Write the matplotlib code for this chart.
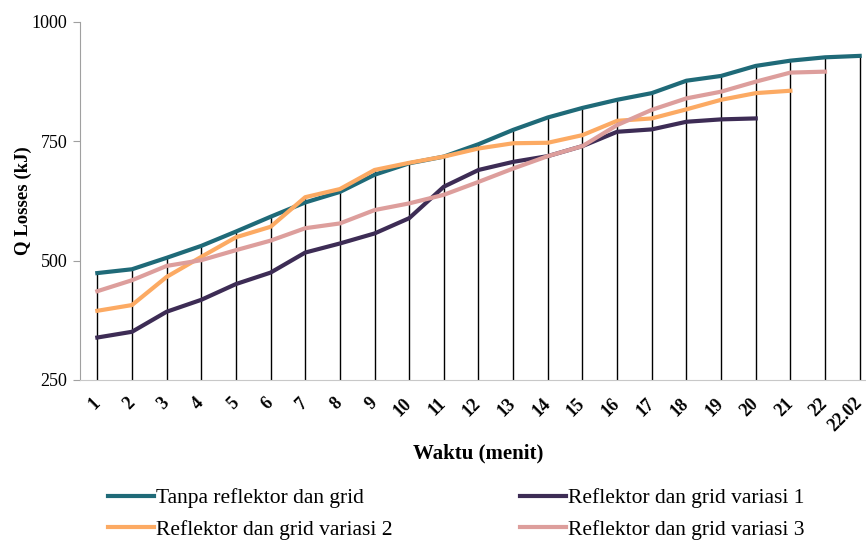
import matplotlib.pyplot as plt
import numpy as np

plt.rcParams['font.family'] = ['Liberation Serif', 'DejaVu Serif']

# waktu (menit) on the category axis
waktu = ['1', '2', '3', '4', '5', '6', '7', '8', '9', '10', '11', '12',
         '13', '14', '15', '16', '17', '18', '19', '20', '21', '22', '22.02']

# Q losses (kJ)
tanpa = [474, 482, 506, 531, 561, 592, 622, 644, 680, 704, 718, 744,
         774, 800, 820, 837, 851, 877, 887, 908, 919, 926, 929]
variasi_1 = [339, 351, 393, 418, 451, 475, 517, 536, 557, 589, 655, 690,
             707, 719, 740, 770, 775, 791, 796, 798]
variasi_2 = [395, 407, 466, 508, 549, 571, 633, 650, 690, 705, 718, 735,
             746, 747, 763, 793, 798, 817, 837, 851, 856]
variasi_3 = [436, 459, 489, 501, 522, 542, 568, 578, 606, 620, 638, 665,
             693, 719, 740, 784, 816, 840, 854, 875, 894, 896]

fig = plt.figure(figsize=(8.66, 5.41), dpi=100)
ax = fig.add_axes([80 / 866, 1 - 380 / 541, 797 / 866, 358 / 541])

x = np.arange(len(waktu))

# drop lines from the highest point in each category
series = [tanpa, variasi_1, variasi_2, variasi_3]
tops = []
for i in x:
    tops.append(max(s[i] for s in series if i < len(s)))
ax.vlines(x, 250, tops, color='black', lw=1, zorder=1)

ax.plot(x, tanpa, color='#1f6a78', lw=3, label='Tanpa reflektor dan grid', zorder=3)
ax.plot(x[:len(variasi_1)], variasi_1, color='#3d2c55', lw=3,
        label='Reflektor dan grid variasi 1', zorder=3)
ax.plot(x[:len(variasi_2)], variasi_2, color='#fcaa63', lw=3,
        label='Reflektor dan grid variasi 2', zorder=3)
ax.plot(x[:len(variasi_3)], variasi_3, color='#dd9e9c', lw=3,
        label='Reflektor dan grid variasi 3', zorder=3)

ax.set_xlim(-0.5, len(waktu) - 0.5)
ax.set_ylim(250, 1000)
ax.set_yticks([250, 500, 750, 1000])
ax.tick_params(axis='y', labelsize=13, color='#a0a0a0', length=5, pad=4)
ax.set_xticks(x)
ax.set_xticklabels(waktu, rotation=45, ha='right', va='center',
                   rotation_mode='anchor', fontweight='bold', fontsize=13)
ax.tick_params(axis='x', length=0, pad=15)

for side in ['top', 'right']:
    ax.spines[side].set_visible(False)
ax.spines['left'].set_color('#a0a0a0')
ax.spines['bottom'].set_color('#c8c8c8')

ax.set_ylabel('Q Losses (kJ)', fontweight='bold', fontsize=13.5, labelpad=0)
ax.set_xlabel('Waktu (menit)', fontweight='bold', fontsize=15, labelpad=6)

handles, labels = ax.get_legend_handles_labels()
order = [0, 2, 1, 3]
fig.legend([handles[i] for i in order], [labels[i] for i in order],
           ncol=2, frameon=False, fontsize=15.5, loc='upper left',
           bbox_to_anchor=(108 / 866, 1 - 488 / 541), borderpad=0,
           borderaxespad=0, handlelength=2.15, handletextpad=0.1,
           columnspacing=5.9, labelspacing=0.55)

fig.savefig('out.png', dpi=100)
